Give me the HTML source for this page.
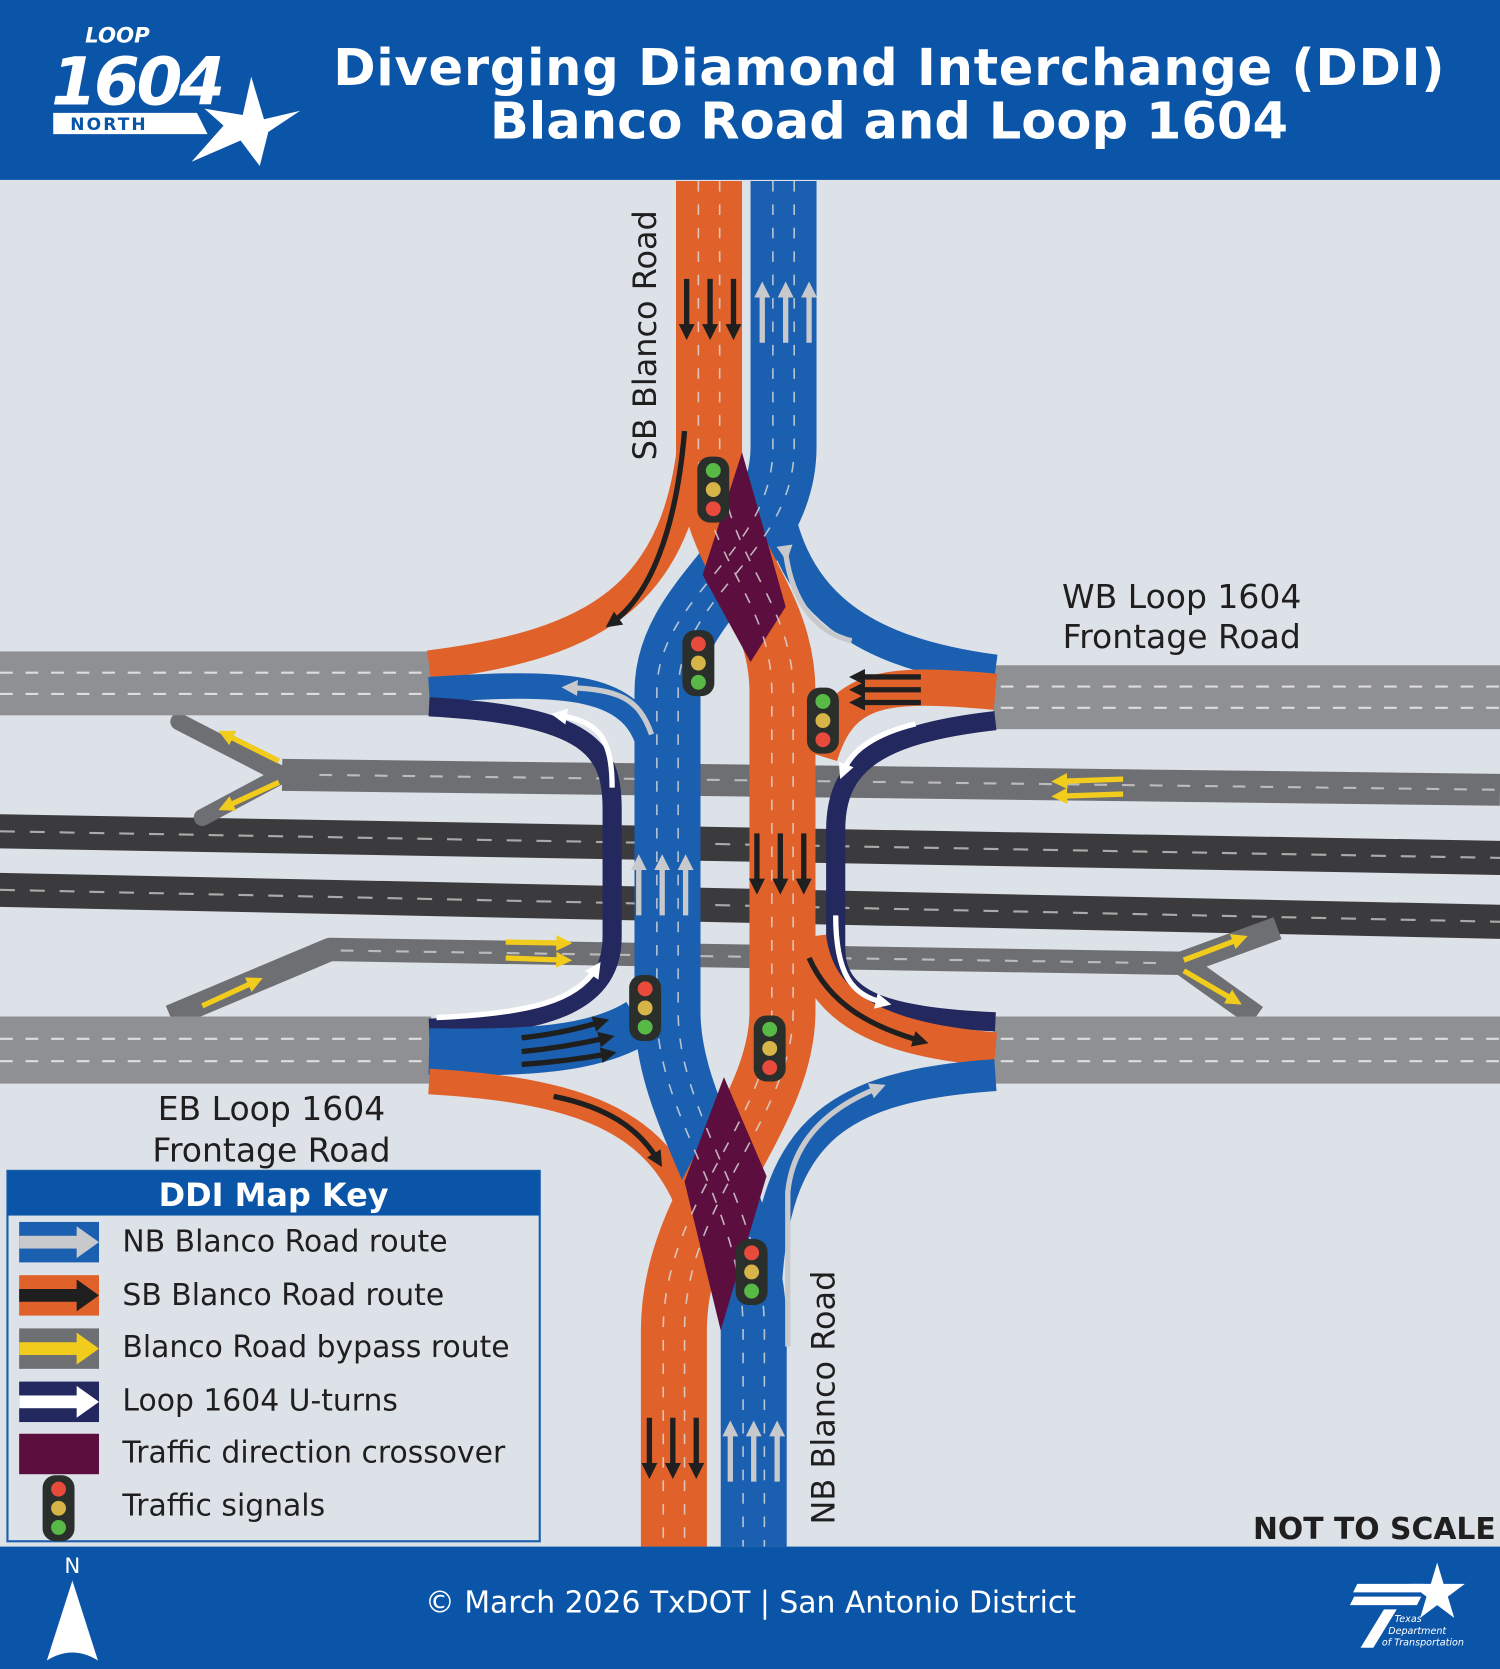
<!DOCTYPE html>
<html><head><meta charset="utf-8"><style>
html,body{margin:0;padding:0;background:#dde1e8}
svg{display:block}
text{font-family:"DejaVu Sans","Liberation Sans",sans-serif}
</style></head><body>
<svg width="1500" height="1669" viewBox="0 0 1409 1568" preserveAspectRatio="none" xmlns="http://www.w3.org/2000/svg">
<defs>
<marker id="ab" viewBox="0 0 10 10" refX="5" refY="5" markerWidth="3" markerHeight="3" orient="auto"><path d="M0,0L10,5L0,10z" fill="#1f1f1f"/></marker>
<marker id="ag" viewBox="0 0 10 10" refX="5" refY="5" markerWidth="3" markerHeight="3" orient="auto"><path d="M0,0L10,5L0,10z" fill="#c8c9cc"/></marker>
<marker id="aw" viewBox="0 0 10 10" refX="5" refY="5" markerWidth="3" markerHeight="3" orient="auto"><path d="M0,0L10,5L0,10z" fill="#fff"/></marker>
<marker id="ay" viewBox="0 0 10 10" refX="5" refY="5" markerWidth="3" markerHeight="3" orient="auto"><path d="M0,0L10,5L0,10z" fill="#f2cc1c"/></marker>
<g id="sig"><rect x="-15" y="-31" width="30" height="62" rx="12" fill="#2b2f2c"/><circle cx="0" cy="-18" r="7" fill="#e84b3c"/><circle cx="0" cy="0" r="7" fill="#d6b447"/><circle cx="0" cy="18" r="7" fill="#58b947"/></g>
<g id="sig2"><rect x="-15" y="-31" width="30" height="62" rx="12" fill="#2b2f2c"/><circle cx="0" cy="-18" r="7" fill="#58b947"/><circle cx="0" cy="0" r="7" fill="#d6b447"/><circle cx="0" cy="18" r="7" fill="#e84b3c"/></g>
</defs>
<rect width="1409" height="1568" fill="#dde1e8"/>
<!-- header -->
<rect width="1409" height="169" fill="#0b55a8"/>
<text x="80" y="40" font-size="20" font-weight="bold" font-style="italic" fill="#fff">LOOP</text>
<text x="48" y="98" font-size="62" font-weight="bold" font-style="italic" fill="#fff" letter-spacing="-3">1604</text>
<polygon points="50,106 185,106 195,126 50,126" fill="#fff"/>
<text x="66" y="122" font-size="16" font-weight="bold" fill="#0b55a8" letter-spacing="2">NORTH</text>
<polygon points="236,72 248,112 282,104 252,124 244,156 226,132 180,152 210,118 192,102 228,108" fill="#fff"/>
<text x="835" y="80" font-size="48" font-weight="bold" fill="#fff" text-anchor="middle" textLength="1044">Diverging Diamond Interchange (DDI)</text>
<text x="835" y="130" font-size="48" font-weight="bold" fill="#fff" text-anchor="middle">Blanco Road and Loop 1604</text>

<!-- freeway main lanes -->
<polygon points="0,765 1409,790 1409,822 0,797" fill="#3b3b3d"/>
<polygon points="0,820 1409,850 1409,882 0,852" fill="#3b3b3d"/>
<line x1="0" y1="781" x2="1409" y2="806" stroke="#aaa" stroke-width="2" stroke-dasharray="14 14"/>
<line x1="0" y1="836" x2="1409" y2="866" stroke="#aaa" stroke-width="2" stroke-dasharray="14 14"/>
<!-- ramps -->
<path d="M265,728 L1409,742" stroke="#6e6f72" stroke-width="30" fill="none"/>
<path d="M168,678 L265,728 L190,768" stroke="#6e6f72" stroke-width="16" fill="none" stroke-linecap="round" stroke-linejoin="round"/>
<path d="M160,955 L310,892 L1110,905 L1200,872 M1110,905 L1180,955" stroke="#6e6f72" stroke-width="22" fill="none" stroke-linejoin="round"/>
<line x1="300" y1="728" x2="1409" y2="742" stroke="#bbb" stroke-width="2" stroke-dasharray="12 14"/>
<line x1="320" y1="893" x2="1100" y2="905" stroke="#bbb" stroke-width="2" stroke-dasharray="12 14"/>
<!-- frontage -->
<rect x="0" y="612" width="405" height="60" fill="#8f9093"/>
<rect x="933" y="625" width="476" height="60" fill="#8f9093"/>
<rect x="0" y="955" width="405" height="63" fill="#8f9093"/>
<rect x="933" y="955" width="476" height="63" fill="#8f9093"/>
<g stroke="#ddd" stroke-width="2" stroke-dasharray="12 12">
<line x1="0" y1="632" x2="400" y2="632"/><line x1="0" y1="652" x2="400" y2="652"/>
<line x1="940" y1="645" x2="1409" y2="645"/><line x1="940" y1="665" x2="1409" y2="665"/>
<line x1="0" y1="976" x2="400" y2="976"/><line x1="0" y1="997" x2="400" y2="997"/>
<line x1="940" y1="976" x2="1409" y2="976"/><line x1="940" y1="997" x2="1409" y2="997"/>
</g>

<!-- turn ramps -->
<path d="M652,400 C640,560 560,605 403,625" stroke="#e0622a" stroke-width="28" fill="none"/>
<path d="M403,648 C530,640 600,640 612,710" stroke="#1b5fb0" stroke-width="24" fill="none"/>
<path d="M403,664 C555,672 575,705 575,760 L575,880 C575,940 520,962 403,966" stroke="#23285e" stroke-width="18" fill="none"/>
<path d="M403,988 C500,990 560,985 600,960" stroke="#1b5fb0" stroke-width="44" fill="none"/>
<path d="M403,1016 C560,1025 620,1060 650,1140" stroke="#e0622a" stroke-width="24" fill="none"/>
<path d="M725,430 C730,560 800,612 935,630" stroke="#1b5fb0" stroke-width="30" fill="none"/>
<path d="M935,650 C830,640 790,645 770,710" stroke="#e0622a" stroke-width="34" fill="none"/>
<path d="M935,677 C820,690 785,720 785,780 L785,890 C785,940 830,955 935,960" stroke="#23285e" stroke-width="18" fill="none"/>
<path d="M760,880 C770,960 850,978 935,986" stroke="#e0622a" stroke-width="32" fill="none"/>
<path d="M720,1200 C730,1060 790,1020 935,1010" stroke="#1b5fb0" stroke-width="30" fill="none"/>

<!-- main Blanco -->
<path d="M736,170 L736,420 C736,520 627,560 627,650 L627,950 C627,1050 708,1130 708,1250 L708,1453" stroke="#1b5fb0" stroke-width="62" fill="none"/>
<path d="M666,170 L666,420 C666,520 735,560 735,650 L735,950 C735,1050 633,1130 633,1250 L633,1453" stroke="#e0622a" stroke-width="62" fill="none"/>
<polygon points="697,425 738,570 705,622 660,540" fill="#5c0e3e"/>
<polygon points="680,1012 720,1105 677,1250 643,1110" fill="#5c0e3e"/>
<g stroke="#ddd" stroke-width="1.5" stroke-dasharray="10 12" fill="none" opacity="0.8">
<path d="M656,170 L656,420 C656,520 725,560 725,650 L725,950 C725,1050 623,1130 623,1250 L623,1453"/>
<path d="M676,170 L676,420 C676,520 745,560 745,650 L745,950 C745,1050 643,1130 643,1250 L643,1453"/>
<path d="M726,170 L726,420 C726,520 617,560 617,650 L617,950 C617,1050 698,1130 698,1250 L698,1453"/>
<path d="M746,170 L746,420 C746,520 637,560 637,650 L637,950 C637,1050 718,1130 718,1250 L718,1453"/>
</g>

<!-- straight arrows -->
<g stroke="#1f1f1f" stroke-width="5" marker-end="url(#ab)">
<line x1="645" y1="262" x2="645" y2="312"/><line x1="667" y1="262" x2="667" y2="312"/><line x1="689" y1="262" x2="689" y2="312"/>
<line x1="711" y1="783" x2="711" y2="833"/><line x1="733" y1="783" x2="733" y2="833"/><line x1="755" y1="783" x2="755" y2="833"/>
<line x1="610" y1="1332" x2="610" y2="1382"/><line x1="632" y1="1332" x2="632" y2="1382"/><line x1="654" y1="1332" x2="654" y2="1382"/>
</g>
<g stroke="#c8c9cc" stroke-width="5" marker-end="url(#ag)">
<line x1="716" y1="322" x2="716" y2="272"/><line x1="738" y1="322" x2="738" y2="272"/><line x1="760" y1="322" x2="760" y2="272"/>
<line x1="600" y1="860" x2="600" y2="810"/><line x1="622" y1="860" x2="622" y2="810"/><line x1="644" y1="860" x2="644" y2="810"/>
<line x1="686" y1="1392" x2="686" y2="1342"/><line x1="708" y1="1392" x2="708" y2="1342"/><line x1="730" y1="1392" x2="730" y2="1342"/>
</g>
<!-- curved arrows -->
<g fill="none" stroke-width="5">
<path d="M643,405 C635,500 610,560 575,585" stroke="#1f1f1f" marker-end="url(#ab)"/>
<path d="M612,690 C600,655 580,648 535,646" stroke="#c8c9cc" marker-end="url(#ag)"/>
<path d="M575,740 C575,690 560,678 525,672" stroke="#fff" marker-end="url(#aw)"/>
<path d="M410,956 C500,952 540,940 560,910" stroke="#fff" marker-end="url(#aw)"/>
<path d="M490,975 C520,972 545,966 565,960" stroke="#1f1f1f" marker-end="url(#ab)"/>
<path d="M490,988 C520,985 548,980 570,975" stroke="#1f1f1f" marker-end="url(#ab)"/>
<path d="M490,1000 C520,998 550,994 572,990" stroke="#1f1f1f" marker-end="url(#ab)"/>
<path d="M520,1030 C570,1040 600,1060 618,1090" stroke="#1f1f1f" marker-end="url(#ab)"/>
<path d="M738,520 C745,570 770,595 800,602" stroke="#c8c9cc" marker-start="url(#ag)"/>
<path d="M865,636 L805,636" stroke="#1f1f1f" marker-end="url(#ab)"/>
<path d="M865,648 L805,648" stroke="#1f1f1f" marker-end="url(#ab)"/>
<path d="M865,660 L805,660" stroke="#1f1f1f" marker-end="url(#ab)"/>
<path d="M860,680 C820,690 800,705 792,725" stroke="#fff" marker-end="url(#aw)"/>
<path d="M785,860 C785,915 800,935 830,942" stroke="#fff" marker-end="url(#aw)"/>
<path d="M760,900 C780,945 820,965 865,978" stroke="#1f1f1f" marker-end="url(#ab)"/>
<path d="M740,1265 L740,1120 C745,1070 780,1040 825,1022" stroke="#c8c9cc" marker-end="url(#ag)"/>
</g>
<g stroke="#f2cc1c" stroke-width="5" marker-end="url(#ay)">
<line x1="262" y1="715" x2="212" y2="690"/><line x1="262" y1="735" x2="212" y2="758"/>
<line x1="1055" y1="732" x2="995" y2="734"/><line x1="1055" y1="746" x2="995" y2="748"/>
<line x1="475" y1="885" x2="530" y2="886"/><line x1="475" y1="900" x2="530" y2="902"/>
<line x1="190" y1="945" x2="240" y2="922"/>
<line x1="1112" y1="902" x2="1165" y2="882"/><line x1="1112" y1="912" x2="1160" y2="940"/>
</g>
<!-- signals -->
<use href="#sig2" x="670" y="460"/>
<use href="#sig" x="656" y="623"/>
<use href="#sig2" x="773" y="677"/>
<use href="#sig" x="606" y="947"/>
<use href="#sig2" x="723" y="985"/>
<use href="#sig" x="706" y="1195"/>

<!-- labels -->
<text transform="translate(616,315) rotate(-90)" font-size="30" fill="#1f1f1f" text-anchor="middle">SB Blanco Road</text>
<text transform="translate(784,1313) rotate(-90)" font-size="30" fill="#1f1f1f" text-anchor="middle">NB Blanco Road</text>
<text x="1110" y="571" font-size="31" fill="#1f1f1f" text-anchor="middle">WB Loop 1604</text>
<text x="1110" y="609" font-size="31" fill="#1f1f1f" text-anchor="middle">Frontage Road</text>
<text x="255" y="1052" font-size="31" fill="#1f1f1f" text-anchor="middle">EB Loop 1604</text>
<text x="255" y="1091" font-size="31" fill="#1f1f1f" text-anchor="middle">Frontage Road</text>
<text x="1405" y="1446" font-size="28" font-weight="bold" fill="#1f1f1f" text-anchor="end">NOT TO SCALE</text>

<!-- legend -->
<rect x="7" y="1100" width="500" height="348" fill="#dde1e8" stroke="#1b5fb0" stroke-width="2"/>
<rect x="7" y="1100" width="500" height="42" fill="#0b55a8"/>
<text x="257" y="1133" font-size="30" font-weight="bold" fill="#fff" text-anchor="middle">DDI Map Key</text>
<rect x="18" y="1148" width="75" height="38" fill="#1b5fb0"/><rect x="18" y="1161" width="55" height="12" fill="#c8c9cc"/><polygon points="72,1152 93,1167 72,1182" fill="#c8c9cc"/>
<rect x="18" y="1198" width="75" height="38" fill="#e0622a"/><rect x="18" y="1211" width="55" height="12" fill="#1f1f1f"/><polygon points="72,1202 93,1217 72,1232" fill="#1f1f1f"/>
<rect x="18" y="1248" width="75" height="38" fill="#6e6f72"/><rect x="18" y="1261" width="55" height="12" fill="#f2cc1c"/><polygon points="72,1252 93,1267 72,1282" fill="#f2cc1c"/>
<rect x="18" y="1298" width="75" height="38" fill="#23285e"/><rect x="18" y="1311" width="55" height="12" fill="#fff"/><polygon points="72,1302 93,1317 72,1332" fill="#fff"/>
<rect x="18" y="1347" width="75" height="38" fill="#5c0e3e"/>
<use href="#sig" x="55" y="1417" transform="translate(0,0)"/>
<g font-size="28" fill="#1f1f1f">
<text x="115" y="1176">NB Blanco Road route</text>
<text x="115" y="1226">SB Blanco Road route</text>
<text x="115" y="1275">Blanco Road bypass route</text>
<text x="115" y="1325">Loop 1604 U-turns</text>
<text x="115" y="1374">Traffic direction crossover</text>
<text x="115" y="1424">Traffic signals</text>
</g>

<!-- footer -->
<rect x="0" y="1453" width="1409" height="115" fill="#0b55a8"/>
<text x="68" y="1478" font-size="20" fill="#fff" text-anchor="middle">N</text>
<path d="M68,1485 L92,1560 Q68,1545 44,1560 Z" fill="#fff"/>
<text x="705" y="1515" font-size="28" fill="#fff" text-anchor="middle">© March 2026 TxDOT | San Antonio District</text>
<polygon points="1350,1468 1356,1488 1376,1488 1360,1500 1366,1520 1350,1508 1334,1520 1340,1500 1324,1488 1344,1488" fill="#fff"/>
<polygon points="1275,1488 1338,1488 1334,1496 1271,1496" fill="#fff"/>
<polygon points="1272,1500 1335,1500 1331,1508 1268,1508" fill="#fff"/>
<polygon points="1300,1512 1312,1512 1290,1548 1278,1548" fill="#fff"/>
<text x="1310" y="1524" font-size="9" font-style="italic" fill="#fff">Texas</text>
<text x="1304" y="1535" font-size="9" font-style="italic" fill="#fff">Department</text>
<text x="1298" y="1546" font-size="9" font-style="italic" fill="#fff">of Transportation</text>
</svg>
</body></html>
